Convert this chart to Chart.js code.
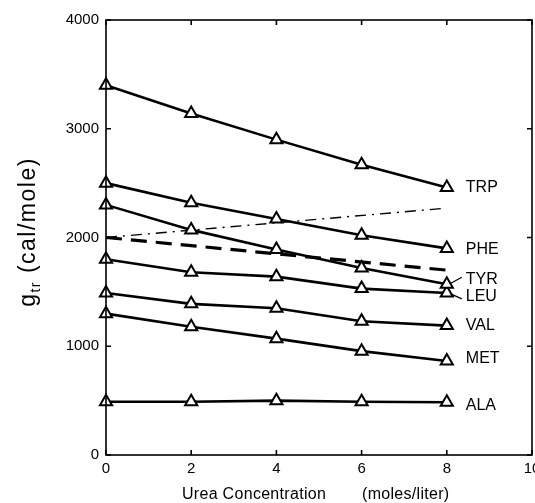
<!DOCTYPE html>
<html>
<head>
<meta charset="utf-8">
<script src="https://cdn.jsdelivr.net/npm/chart.js@4/dist/chart.umd.min.js"></script>
<style>
  html, body { margin: 0; padding: 0; background: #fff; }
  #wrap { width: 535px; height: 503px; }
</style>
</head>
<body>
<div id="wrap"><canvas id="c" width="535" height="503"></canvas></div>
<script>
// ---- data ----
const ureaConc = [0, 2, 4, 6, 8];
const seriesNames = ['TRP', 'PHE', 'TYR', 'LEU', 'VAL', 'MET', 'ALA'];
const TRP = [3400, 3140, 2900, 2670, 2460];
const PHE = [2500, 2320, 2170, 2020, 1900];
const TYR = [2300, 2070, 1890, 1720, 1570];
const LEU = [1800, 1680, 1640, 1530, 1490];
const VAL = [1490, 1390, 1350, 1230, 1190];
const MET = [1300, 1180, 1070, 955, 865];
const ALA = [490, 490, 500, 490, 485];
const refConc = [0, 8];
const dashDotLine = [2000, 2270];
const dashedLine = [2000, 1700];
const xTicks = [0, 2, 4, 6, 8, 10];
const yTicks = [0, 1000, 2000, 3000, 4000];

const seriesValues = [TRP, PHE, TYR, LEU, VAL, MET, ALA];
const toXY = (xs, ys) => xs.map((x, i) => ({ x: x, y: ys[i] }));

const FONT = '"Liberation Sans", Arial, Helvetica, sans-serif';

const datasets = seriesValues.map((vals, i) => ({
  label: seriesNames[i],
  data: toXY(ureaConc, vals),
  borderColor: '#000',
  borderWidth: 2.6,
  pointStyle: 'triangle',
  pointRadius: 7,
  pointBorderWidth: 2,
  pointBackgroundColor: '#fff',
  pointBorderColor: '#000',
  tension: 0,
  order: 1
}));
datasets.push({
  label: 'dashdot',
  data: toXY(refConc, dashDotLine),
  borderColor: '#000',
  borderWidth: 1.4,
  borderDash: [11, 6, 2, 6],
  pointRadius: 0,
  order: 2
});
datasets.push({
  label: 'dashed',
  data: toXY(refConc, dashedLine),
  borderColor: '#000',
  borderWidth: 3.2,
  borderDash: [16, 9],
  pointRadius: 0,
  order: 2
});

const decorPlugin = {
  id: 'decor',
  afterDatasetsDraw(chart) {
    const ctx = chart.ctx;
    const xs = chart.scales.x, ys = chart.scales.y;
    const a = chart.chartArea;
    ctx.save();
    // frame
    ctx.strokeStyle = '#000';
    ctx.lineWidth = 1.6;
    ctx.strokeRect(a.left, a.top, a.right - a.left, a.bottom - a.top);
    // inward ticks on all four sides
    const tl = 5;
    ctx.beginPath();
    xTicks.forEach(v => {
      const px = xs.getPixelForValue(v);
      ctx.moveTo(px, a.bottom); ctx.lineTo(px, a.bottom - tl);
      ctx.moveTo(px, a.top); ctx.lineTo(px, a.top + tl);
    });
    yTicks.forEach(v => {
      const py = ys.getPixelForValue(v);
      ctx.moveTo(a.left, py); ctx.lineTo(a.left + tl, py);
      ctx.moveTo(a.right, py); ctx.lineTo(a.right - tl, py);
    });
    ctx.stroke();

    // series labels at the right end
    const labelOffsets = { TRP: -1, PHE: 0, TYR: -6, LEU: 3, VAL: -1, MET: -3, ALA: 2 };
    ctx.fillStyle = '#000';
    ctx.font = '16px ' + FONT;
    ctx.textBaseline = 'middle';
    ctx.textAlign = 'left';
    const x8 = xs.getPixelForValue(ureaConc[ureaConc.length - 1]);
    seriesNames.forEach((name, i) => {
      const vals = seriesValues[i];
      const py = ys.getPixelForValue(vals[vals.length - 1]) + labelOffsets[name];
      ctx.fillText(name, x8 + 19, py + 1);
    });
    // leader lines for TYR / LEU
    ctx.lineWidth = 1.3;
    ctx.beginPath();
    const pTyr = ys.getPixelForValue(TYR[TYR.length - 1]);
    const pLeu = ys.getPixelForValue(LEU[LEU.length - 1]);
    ctx.moveTo(x8 + 4, pTyr - 1); ctx.lineTo(x8 + 15, pTyr - 7);
    ctx.moveTo(x8 + 4, pLeu + 1); ctx.lineTo(x8 + 15, pLeu + 6);
    ctx.stroke();

    // x axis title
    ctx.font = '16px ' + FONT;
    ctx.textAlign = 'left';
    ctx.textBaseline = 'alphabetic';
    ctx.letterSpacing = '0.3px';
    ctx.fillText('Urea Concentration', 182, 499);
    ctx.fillText('(moles/liter)', 362, 499);

    // y axis title with subscript
    ctx.translate(35, 232);
    ctx.rotate(-Math.PI / 2);
    ctx.letterSpacing = '1.5px';
    const bigFont = '23px ' + FONT, subFont = '14px ' + FONT;
    ctx.font = bigFont;
    const wG = ctx.measureText('g').width;
    const wRest = ctx.measureText(' (cal/mole)').width;
    ctx.font = subFont;
    const wSub = ctx.measureText('tr').width;
    let x0 = -(wG + wSub + wRest) / 2;
    ctx.font = bigFont;
    ctx.fillText('g', x0, 0);
    ctx.font = subFont;
    ctx.fillText('tr', x0 + wG, 5);
    ctx.font = bigFont;
    ctx.fillText(' (cal/mole)', x0 + wG + wSub, 0);
    ctx.restore();
  }
};

new Chart(document.getElementById('c'), {
  type: 'line',
  data: { datasets: datasets },
  options: {
    responsive: false,
    animation: false,
    devicePixelRatio: 1,
    layout: { autoPadding: false, padding: { top: 20, right: 3, left: 0, bottom: 0 } },
    plugins: { legend: { display: false }, tooltip: { enabled: false }, title: { display: false } },
    scales: {
      x: {
        type: 'linear', min: 0, max: 10,
        afterFit: s => { s.height = 48; s.paddingLeft = 0; s.paddingRight = 0; },
        afterBuildTicks: s => { s.ticks = xTicks.map(v => ({ value: v })); },
        ticks: { color: '#000', font: { family: FONT, size: 15 }, padding: 5, maxRotation: 0,
                 callback: v => String(v) },
        grid: { display: false, drawTicks: false },
        border: { display: false }
      },
      y: {
        type: 'linear', min: 0, max: 4000,
        afterFit: s => { s.width = 106; s.paddingTop = 0; s.paddingBottom = 0; },
        afterBuildTicks: s => { s.ticks = yTicks.map(v => ({ value: v })); },
        ticks: { color: '#000', font: { family: FONT, size: 15 }, padding: 7,
                 callback: v => String(v) },
        grid: { display: false, drawTicks: false },
        border: { display: false }
      }
    },
    elements: { line: { fill: false } },
    clip: false
  },
  plugins: [decorPlugin]
});
</script>
</body>
</html>
